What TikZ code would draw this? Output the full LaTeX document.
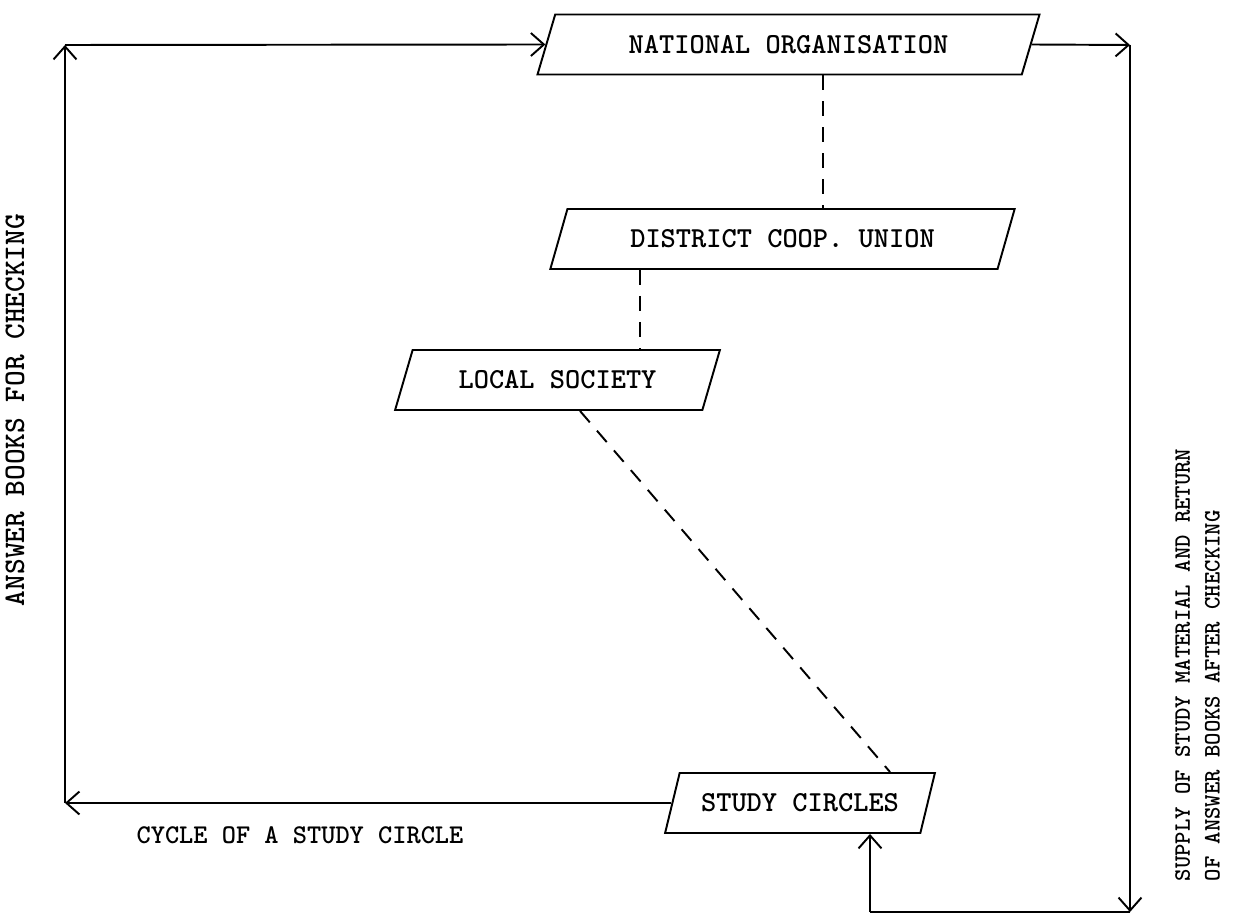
\documentclass[tikz,border=0pt]{standalone}
\usepackage{tikz}
\usetikzlibrary{shapes.geometric,arrows.meta,positioning}
\tikzset
{
    levelbox/.style = {trapezium, trapezium left angle=64, trapezium right angle=116, trapezium stretches=true, draw=black, line width=1.1pt, align=center, minimum height=1.2cm, inner sep=2pt, font=\ttfamily\bfseries\fontsize{16.5}{20}\selectfont},
    flow/.style     = {line width=1.1pt, ->},
    link/.style     = {line width=1.1pt, dash pattern=on 0.3cm off 0.22cm},
    note/.style     = {align=left}
}

\begin{document}
\begin{tikzpicture}[>={Straight Barb[length=2.6mm,width=4.6mm]}, font=\ttfamily\bfseries\fontsize{13.4}{17}\selectfont]
\useasboundingbox (0,0) rectangle (24.68,-18.34);

\node (nat)	[levelbox, minimum width=10.06cm]	at (15.77,-0.89)	{NATIONAL ORGANISATION};
\node (dist)	[levelbox, minimum width=9.3cm]	at (15.65,-4.78)	{DISTRICT COOP. UNION};
\node (loc)	[levelbox, minimum width=6.5cm]	at (11.15,-7.6)		{LOCAL SOCIETY};
\node (sc)	[levelbox, minimum width=5.4cm]	at (16.0,-16.06)	{STUDY CIRCLES};

\coordinate (ctl) at (1.3,-0.9);
\coordinate (cbl) at (ctl |- sc.west);
\coordinate (ctr) at (22.6,-0.9);
\coordinate (cbr) at (22.6,-18.24);
\coordinate (cbm) at (17.4,-18.24);

\node (ansl)	[rotate=90, font=\ttfamily\bfseries\fontsize{17}{20}\selectfont]	at (0.3,-8.2)	{ANSWER BOOKS FOR CHECKING};
\node (cyc)	[font=\ttfamily\bfseries\fontsize{15.4}{18}\selectfont]		at (6.0,-16.7)	{CYCLE OF A STUDY CIRCLE};
\node (supl)	[note, rotate=90]	at (23.95,-13.3)	{SUPPLY OF STUDY MATERIAL AND RETURN\\OF ANSWER BOOKS AFTER CHECKING};

%% answer books going up
\path
(sc.west)	edge[flow]	(cbl)
(cbl)		edge[flow]	(ctl)
(ctl)		edge[flow]	(nat.west);

%% material coming back
\path
(nat.east)	edge[flow]	(ctr)
(ctr)		edge[flow]	(cbr)
(cbr)		edge[line width=1.1pt]	(cbm)
(cbm)		edge[flow]	(cbm |- sc.south);

%% links between levels
\coordinate (n1) at ([xshift=0.68cm]nat.south);
\coordinate (d1) at ([xshift=-2.85cm]dist.south);
\coordinate (l1) at ([xshift=0.45cm]loc.south);
\coordinate (s1) at ([xshift=1.8cm]sc.north);
\path
(n1)	edge[link]	(n1 |- dist.north)
(d1)	edge[link]	(d1 |- loc.north)
(l1)	edge[link]	(s1);

\end{tikzpicture}
\end{document}
